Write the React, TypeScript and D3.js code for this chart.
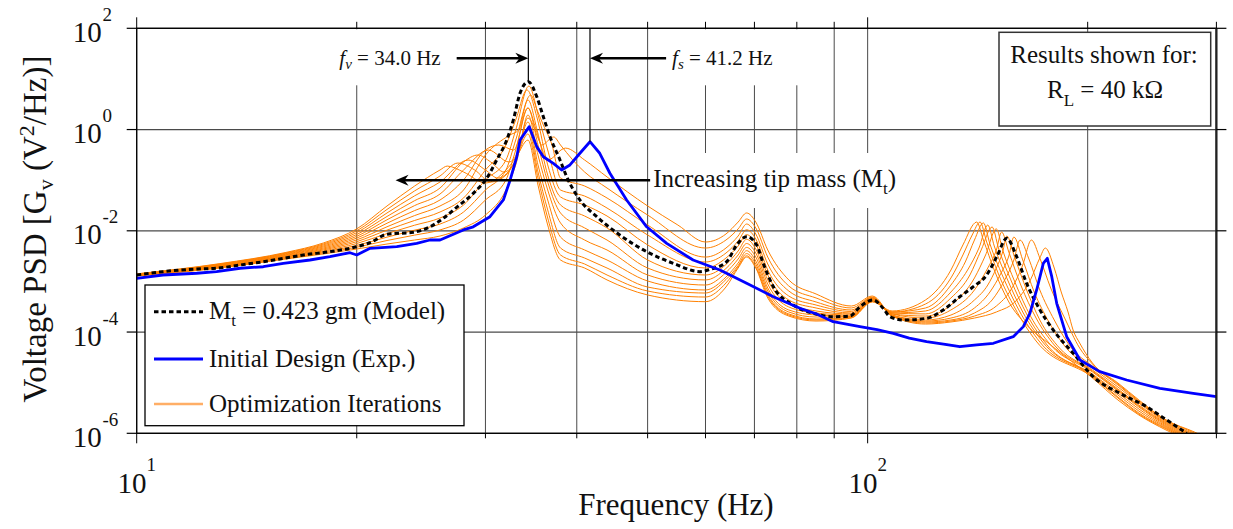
import React from 'react';
import * as d3 from 'd3';

type P = [number, number];

// ---------- axis ticks ----------
const xMajorTicks = [10, 100];
const xMinorTicks = [20, 30, 40, 50, 60, 70, 80, 90, 200, 300];
const xTickLabels = [{ v: 10, e: '1' }, { v: 100, e: '2' }];
const yTickExps = [-6, -4, -2, 0, 2];

// ---------- model (dashed) : [Hz, V^2/Hz] ----------
const modelSeries: P[] = [[10,1.34e-3],[10.86,1.56e-3],[12.08,1.76e-3],[12.86,1.82e-3],[13.85,2.11e-3],[14.9,2.45e-3],[15.87,2.86e-3],[16.9,3.33e-3],[18.38,3.87e-3],[20.0,4.85e-3],[20.86,5.82e-3],[21.98,8.53e-3],[23.9,9.34e-3],[25.19,1.2e-2],[26.27,1.77e-2],[27.4,2.91e-2],[28.87,5.5e-2],[30.12,0.109],[31.08,0.25],[32.08,0.62],[32.75,1.54],[33.45,5.2],[34.34,8.8],[35.26,4.46],[36.0,1.79],[36.77,0.72],[37.94,0.25],[38.75,0.117],[40.4,0.0406],[42.6,0.019],[45.8,8.26e-3],[49.85,3.87e-3],[54.2,2.28e-3],[58.97,1.56e-3],[60.85,1.73e-3],[64.14,2.45e-3],[66.2,5.25e-3],[68.3,7.66e-3],[70.5,5.25e-3],[71.97,2.28e-3],[74.3,7.87e-4],[79.1,3.42e-4],[84.3,2.34e-4],[89.7,2.01e-4],[94.6,2.07e-4],[97.6,3.17e-4],[101.8,4.3e-4],[105.0,2.94e-4],[107.3,2.01e-4],[111.9,1.73e-4],[120.4,1.87e-4],[126.9,2.73e-4],[133.7,4.99e-4],[139.5,7.87e-4],[145.5,1.34e-3],[150.2,3.08e-3],[155.0,7.11e-3],[159.9,3.08e-3],[165.0,9.18e-4],[172.1,2.73e-4],[179.4,1.1e-4],[191.1,3.8e-5],[203.5,1.31e-5],[221.3,6.17e-6],[240.8,3.35e-6],[256.5,1.83e-6],[273.3,1.0e-6]];

// ---------- initial design, experiment (blue) ----------
const expSeries: P[] = [[10,1.15e-3],[10.86,1.34e-3],[12.08,1.45e-3],[12.86,1.56e-3],[13.85,1.82e-3],[14.9,1.95e-3],[15.87,2.28e-3],[17.26,2.65e-3],[18.38,3.08e-3],[19.58,3.69e-3],[20.0,3.33e-3],[20.86,4.51e-3],[22.69,4.85e-3],[24.16,5.66e-3],[25.19,6.58e-3],[26.0,6.58e-3],[27.98,1.04e-2],[28.87,1.2e-2],[30.43,1.9e-2],[31.74,4.06e-2],[32.42,0.1],[33.11,0.29],[33.45,0.62],[34.44,1.14],[35.26,0.46],[36.0,0.29],[37.15,0.215],[38.14,0.159],[39.15,0.2],[40.4,0.34],[41.7,0.575],[43.0,0.34],[44.4,0.137],[46.8,4.06e-2],[49.85,1.2e-2],[53.1,5.66e-3],[57.7,2.65e-3],[62.8,1.68e-3],[64.1,1.45e-3],[68.3,9.18e-4],[74.3,4.99e-4],[80.8,2.94e-4],[85.0,2.3e-4],[89.7,1.6e-4],[97.6,1.28e-4],[103.0,1.12e-4],[108.4,9.4e-5],[114.0,7.6e-5],[120.4,6.44e-5],[127.0,5.8e-5],[133.7,5.13e-5],[141.0,5.6e-5],[148.6,6.0e-5],[158.2,8.1e-5],[163.3,1.28e-4],[166.7,2.34e-4],[170.3,6.78e-4],[173.9,2.28e-3],[176.1,2.86e-3],[178.6,1.24e-3],[181.4,3.7e-4],[187.2,8.1e-5],[195.2,2.8e-5],[207.8,1.65e-5],[226.1,1.13e-5],[251.1,7.74e-6],[278.9,6.17e-6],[300,5.28e-6]];

// ---------- optimization iterations (orange) ----------
const iter0: P[] = [[10,1.28e-3],[13,1.84e-3],[16,2.77e-3],[18,3.48e-3],[20,4.37e-3],[22,5.48e-3],[24,6.58e-3],[26,7.89e-3],[28,1.14e-2],[30,2.05e-2],[32,6.4e-2],[33,0.2],[34.3,1.69],[35.5,0.62],[36.5,0.25],[38.6,0.43],[41,0.25],[44,0.116],[50,3.09e-2],[55,1.3e-2],[60,6.01e-3],[64,8.65e-3],[66.5,1.49e-2],[68.3,2.25e-2],[70.3,1.49e-2],[73,4.18e-3],[78,1.07e-3],[85,5.65e-4],[95,3.27e-4],[101.5,5.15e-4],[108,2.07e-4],[120,1.44e-4],[130,1.58e-4],[140,1.89e-4],[150,2.49e-4],[160,4.3e-4],[167,1.07e-3],[172,2.9e-3],[175,4.57e-3],[180,1.84e-3],[184,6.18e-4],[188,2.49e-4],[191,1.1e-4],[195,6.08e-5],[203,2.45e-5],[220,9.86e-6],[235,4.55e-6],[256,1.83e-6],[280,1.06e-6],[295,7.4e-7]];
const iter1: P[] = [[10,1.3e-3],[13,1.87e-3],[16,2.85e-3],[18,3.64e-3],[20,4.74e-3],[22,6.43e-3],[24,8.22e-3],[26,1.04e-2],[28,1.63e-2],[30,4.06e-2],[32,0.101],[33,0.394],[34.3,2.67],[35.2,0.98],[35.8,0.495],[37.2,0.713],[38,0.495],[39.5,0.25],[41,0.145],[44,7.0e-2],[50,2.05e-2],[60,4.57e-3],[64,6.58e-3],[66.5,1.09e-2],[68.3,1.71e-2],[70.3,1.14e-2],[73,3.03e-3],[78,8.13e-4],[85,4.71e-4],[95,2.99e-4],[101.5,4.92e-4],[108,2.07e-4],[120,1.51e-4],[130,1.65e-4],[140,2.07e-4],[150,3.27e-4],[157,6.78e-4],[163,2.11e-3],[167.5,6.58e-3],[172,2.9e-3],[178,7.41e-4],[186,1.89e-4],[195,4.84e-5],[203,2.34e-5],[220,9.42e-6],[235,4.35e-6],[256,1.83e-6],[280,1.01e-6],[295,7.05e-7]];
const iter2: P[] = [[10,1.3e-3],[13,1.91e-3],[16,2.93e-3],[18,3.81e-3],[20,5.14e-3],[22,7.5e-3],[24,1.03e-2],[26,1.36e-2],[28,2.35e-2],[30,6.4e-2],[32,0.159],[33,0.62],[34.6,4.81],[35.3,2.43],[36,1.23],[37,0.495],[38,0.11],[41,7.67e-2],[44,4.45e-2],[50,1.3e-2],[60,3.03e-3],[64,4.57e-3],[66.5,7.89e-3],[68.3,1.36e-2],[70.3,8.65e-3],[73,2.21e-3],[78,6.47e-4],[85,3.93e-4],[95,2.73e-4],[101.5,4.81e-4],[108,2.07e-4],[120,1.58e-4],[130,1.73e-4],[140,2.38e-4],[148,4.3e-4],[154,1.07e-3],[158.5,2.65e-3],[161.6,6.58e-3],[166,2.9e-3],[172,6.78e-4],[180,1.73e-4],[190,4.84e-5],[203,2.13e-5],[220,9.0e-6],[235,4.15e-6],[256,1.75e-6],[280,9.7e-7]];
const iter3: P[] = [[10,1.32e-3],[13,1.95e-3],[16,3.01e-3],[18,3.99e-3],[20,5.61e-3],[22,8.81e-3],[24,1.29e-2],[26,1.79e-2],[28,3.24e-2],[30,0.101],[32,0.25],[33,0.98],[34.4,7.24],[35.5,1.69],[36.5,0.394],[38,6.4e-2],[41,4.86e-2],[44,2.82e-2],[50,8.26e-3],[60,2.42e-3],[64,3.64e-3],[66.5,6.28e-3],[68.3,1.05e-2],[70.3,6.89e-3],[73,1.68e-3],[78,5.15e-4],[85,3.42e-4],[95,2.55e-4],[101.5,4.7e-4],[108,2.17e-4],[120,1.65e-4],[130,1.89e-4],[140,2.99e-4],[147,6.18e-4],[152,1.4e-3],[156,3.18e-3],[158.5,7.53e-3],[163,2.65e-3],[169,6.18e-4],[177,1.58e-4],[188,4.42e-5],[203,1.95e-5],[220,8.22e-6],[235,3.96e-6],[256,1.67e-6],[280,9.25e-7]];
const iter4: P[] = [[10,1.33e-3],[13,1.98e-3],[16,3.09e-3],[18,4.18e-3],[20,6.1e-3],[22,1.03e-2],[24,1.6e-2],[26,2.35e-2],[28,4.45e-2],[30,0.159],[32,0.495],[33,1.55],[34.2,6.04],[35.3,1.69],[36.5,0.2],[38,4.66e-2],[41,3.24e-2],[44,1.96e-2],[50,5.25e-3],[60,1.84e-3],[64,2.9e-3],[66.5,5.01e-3],[68.3,8.41e-3],[70.3,5.48e-3],[73,1.34e-3],[78,4.3e-4],[85,2.99e-4],[95,2.38e-4],[101.5,4.6e-4],[108,2.17e-4],[120,1.73e-4],[130,2.17e-4],[140,4.3e-4],[146,8.49e-4],[150,1.84e-3],[153,3.81e-3],[155,7.89e-3],[159,2.9e-3],[165,6.78e-4],[172,1.73e-4],[183,4.84e-5],[203,1.78e-5],[220,7.5e-6],[235,3.62e-6],[256,1.6e-6],[280,8.85e-7]];
const iter5: P[] = [[10,1.34e-3],[13,2.02e-3],[16,3.18e-3],[18,4.37e-3],[20,6.61e-3],[22,1.2e-2],[24,2.0e-2],[26,3.09e-2],[28,6.4e-2],[30,0.314],[32.4,0.78],[33.3,0.98],[34.3,3.84],[35.3,0.98],[36.5,0.126],[38,3.24e-2],[41,1.96e-2],[44,1.14e-2],[50,2.65e-3],[60,1.34e-3],[64,2.16e-3],[66.5,3.99e-3],[68.3,6.79e-3],[70.3,4.37e-3],[73,1.07e-3],[78,3.58e-4],[85,2.61e-4],[95,2.28e-4],[101.5,4.5e-4],[108,2.28e-4],[120,1.89e-4],[130,2.73e-4],[140,6.78e-4],[146,1.84e-3],[150,4.18e-3],[152.5,9.46e-3],[156,3.81e-3],[162,8.49e-4],[170,1.89e-4],[180,5.55e-5],[203,1.7e-5],[220,7.16e-6],[235,3.46e-6],[256,1.53e-6],[280,8.45e-7]];
const iter6: P[] = [[10,1.35e-3],[13,2.06e-3],[16,3.27e-3],[18,4.57e-3],[20,7.18e-3],[22,1.41e-2],[24,2.51e-2],[26,4.06e-2],[28,0.101],[30,0.394],[31.3,0.495],[32.8,0.394],[34.3,2.67],[35.4,0.495],[36.5,9.2e-2],[38,2.25e-2],[41,1.14e-2],[44,6.58e-3],[50,1.84e-3],[60,1.07e-3],[64,1.8e-3],[66.5,3.33e-3],[68.3,5.61e-3],[70.3,3.64e-3],[73,8.89e-4],[78,3.13e-4],[85,2.38e-4],[95,2.17e-4],[101.5,4.4e-4],[108,2.28e-4],[120,2.07e-4],[130,3.42e-4],[140,1.17e-3],[145,3.33e-3],[150,1.09e-2],[153,4.18e-3],[159,9.75e-4],[167,2.07e-4],[178,5.55e-5],[203,1.63e-5],[220,6.85e-6],[235,3.3e-6],[256,1.46e-6],[280,8.07e-7]];
const iter7: P[] = [[10,1.36e-3],[13,2.09e-3],[16,3.36e-3],[18,4.79e-3],[20,7.78e-3],[22,1.65e-2],[24,3.15e-2],[26,5.33e-2],[28,0.159],[30.3,0.394],[32.3,0.229],[33.3,0.394],[34.3,1.94],[35.4,0.314],[36.5,6.4e-2],[38,1.43e-2],[41,6.58e-3],[44,4.18e-3],[50,1.34e-3],[60,8.49e-4],[64,1.5e-3],[66.5,2.77e-3],[68.3,4.7e-3],[70.3,3.03e-3],[73,7.41e-4],[78,2.73e-4],[85,2.17e-4],[95,2.07e-4],[101.5,4.3e-4],[108,2.38e-4],[120,2.28e-4],[130,4.71e-4],[138,1.34e-3],[143,4.18e-3],[148,1.19e-2],[151,4.57e-3],[157,1.07e-3],[165,2.28e-4],[176,5.55e-5],[203,1.48e-5],[220,6.25e-6],[235,3.02e-6],[256,1.39e-6],[280,7.71e-7]];
const iter8: P[] = [[10,1.37e-3],[13,2.13e-3],[16,3.45e-3],[18,5.01e-3],[20,8.45e-3],[22,1.92e-2],[24,3.94e-2],[26,7.0e-2],[28,0.229],[29.3,0.314],[30.5,0.229],[31.8,0.145],[33,0.25],[34.3,1.41],[35.4,0.2],[36.5,4.06e-2],[38,7.53e-3],[41,4.18e-3],[44,2.65e-3],[50,1.02e-3],[60,6.78e-4],[64,1.22e-3],[66.5,2.31e-3],[68.3,4.05e-3],[70.3,2.53e-3],[73,6.47e-4],[78,2.49e-4],[85,1.98e-4],[95,2.03e-4],[101.5,4.2e-4],[108,2.38e-4],[120,2.61e-4],[130,6.18e-4],[137,1.68e-3],[142,4.57e-3],[146,1.3e-2],[149,5.01e-3],[155,1.17e-3],[163,2.49e-4],[174,6.08e-5],[203,1.42e-5],[220,5.71e-6],[235,2.75e-6],[256,1.33e-6],[280,7.38e-7]];
const iter9: P[] = [[10,1.38e-3],[13,2.17e-3],[16,3.55e-3],[18,5.25e-3],[20,9.2e-3],[22,2.25e-2],[24,4.91e-2],[26,9.2e-2],[28.4,0.25],[30,0.159],[31.2,0.11],[33,0.25],[34.3,1.07],[35.4,0.145],[36.5,2.58e-2],[38,4.57e-3],[41,2.9e-3],[44,1.84e-3],[50,7.76e-4],[60,5.9e-4],[64,1.09e-3],[66.5,2.06e-3],[68.3,3.55e-3],[70.3,2.21e-3],[73,5.65e-4],[78,2.28e-4],[85,1.81e-4],[95,1.98e-4],[101.5,4.1e-4],[108,2.49e-4],[120,2.99e-4],[130,8.49e-4],[136,2.42e-3],[140,6.58e-3],[144,1.43e-2],[147,5.48e-3],[153,1.28e-3],[161,2.73e-4],[172,6.37e-5],[203,1.36e-5],[220,5.21e-6],[235,2.52e-6],[256,1.27e-6],[280,7.05e-7]];
const iter10: P[] = [[10,1.4e-3],[13,2.21e-3],[16,3.64e-3],[18,5.48e-3],[20,1.0e-2],[22,2.64e-2],[24,6.14e-2],[26,0.121],[27.5,0.218],[29,0.159],[30.5,9.2e-2],[32,0.126],[33,0.25],[34.3,0.817],[35.4,0.11],[36.5,1.79e-2],[38,3.33e-3],[41,2.21e-3],[44,1.34e-3],[50,6.47e-4],[60,4.92e-4],[64,9.31e-4],[66.5,1.93e-3],[68.3,3.21e-3],[70.3,1.97e-3],[73,5.15e-4],[78,2.17e-4],[85,1.73e-4],[95,1.94e-4],[101.5,4.01e-4],[108,2.49e-4],[120,3.58e-4],[130,1.17e-3],[135,3.33e-3],[139,8.26e-3],[142.5,1.49e-2],[145.5,6.01e-3],[151,1.4e-3],[159,2.99e-4],[170,6.65e-5],[203,1.29e-5],[220,4.98e-6],[235,2.4e-6],[256,1.22e-6],[280,6.73e-7]];
const iter11: P[] = [[10,1.41e-3],[13,2.25e-3],[16,3.74e-3],[18,5.74e-3],[20,1.09e-2],[22,3.09e-2],[24,7.67e-2],[26,0.159],[26.6,0.19],[28,0.145],[30,8.8e-2],[32,0.159],[33,0.274],[34.3,0.62],[35.4,8.0e-2],[36.5,1.3e-2],[38,2.65e-3],[41,1.84e-3],[44,1.07e-3],[50,5.4e-4],[60,3.98e-4],[64,7.76e-4],[66.5,1.84e-3],[68.3,3.03e-3],[70.3,1.84e-3],[73,4.71e-4],[78,2.07e-4],[85,1.65e-4],[95,1.89e-4],[101.5,3.93e-4],[108,2.61e-4],[120,4.3e-4],[130,1.68e-3],[135,5.25e-3],[141,1.49e-2],[144,6.58e-3],[149,1.68e-3],[156,3.93e-4],[165,1.38e-4],[178,5.55e-5],[203,1.24e-5],[220,4.55e-6],[235,2.3e-6],[256,1.16e-6],[280,6.42e-7]];
const iterations: P[][] = [iter0, iter1, iter2, iter3, iter4, iter5, iter6, iter7, iter8, iter9, iter10, iter11];

// ---------- annotations (data coordinates) ----------
const fvPeak: P = [34.34, 8.8];   // model resonance
const fsPeak: P = [41.7, 0.575];  // experimental resonance
const arrowLevel = 25.5;          // PSD level of the f arrows
const fvArrowTail = 27.4;
const fsArrowTail = 53.0;
const massArrow = { from: 50.4, to: 22.6, level: 0.1 };

const FONT = '"Liberation Serif", "Times New Roman", serif';

export default function App() {
  const L = 136.7, R = 1216.4, T = 28.3, B = 433.3;
  const x = d3.scaleLog().domain([10, 300]).range([L, R]);
  const y = d3.scaleLog().domain([1e-6, 1e2]).range([B, T]);
  const smooth = d3.line<P>().x(d => x(d[0])).y(d => y(d[1])).curve(d3.curveMonotoneX);
  const straight = d3.line<P>().x(d => x(d[0])).y(d => y(d[1]));

  const gridX = [...xMajorTicks, ...xMinorTicks];
  const gridColor = '#4a4a4a';
  const orange = '#ff8000';

  const arrowHead = (tx: number, ty: number, dir: number) => {
    const len = 13, hw = 5.5, back = 4;
    const bx = tx - dir * len;
    return `M${tx},${ty} L${bx},${ty - hw} L${bx + dir * back},${ty} L${bx},${ty + hw} Z`;
  };

  const ay = y(arrowLevel);
  const fvX = x(fvPeak[0]);
  const fsX = x(fsPeak[0]);
  const fvTailX = x(fvArrowTail);
  const fsTailX = x(fsArrowTail);
  const my = y(massArrow.level);
  const mFrom = x(massArrow.from), mTo = x(massArrow.to);

  const legendItems = [
    { kind: 'model', y: 311.7 },
    { kind: 'exp', y: 359 },
    { kind: 'iter', y: 404 },
  ];

  return (
    <svg width={1233} height={529} style={{ position: 'absolute', left: 0, top: 0, background: '#fff', fontFamily: FONT }}>
      <defs>
        <clipPath id="plotClip">
          <rect x={L} y={T} width={R - L} height={B - T} />
        </clipPath>
      </defs>
      <rect x={0} y={0} width={1233} height={529} fill="#fff" />

      {/* grid */}
      {gridX.map(v => (
        <line key={'gx' + v} x1={x(v)} x2={x(v)} y1={T} y2={B} stroke={gridColor} strokeWidth={1} />
      ))}
      {yTickExps.map(e => (
        <line key={'gy' + e} x1={L} x2={R} y1={y(Math.pow(10, e))} y2={y(Math.pow(10, e))} stroke={gridColor} strokeWidth={1.2} />
      ))}

      {/* text backgrounds that hide grid lines */}
      <rect x={318} y={T + 1} width={134} height={56} fill="#fff" />
      <rect x={fsTailX - 4} y={T + 1} width={140} height={56} fill="#fff" />
      <rect x={mFrom} y={153} width={262} height={55} fill="#fff" />

      {/* data */}
      <g clipPath="url(#plotClip)">
        {iterations.map((s, i) => (
          <path key={'it' + i} d={smooth(s) || ''} fill="none" stroke={orange} strokeWidth={1} />
        ))}
        <path d={smooth(modelSeries) || ''} fill="none" stroke="#000" strokeWidth={3} strokeDasharray="4.5 3" />
        <path d={straight(expSeries) || ''} fill="none" stroke="#0000ff" strokeWidth={2.8} strokeLinejoin="round" />
      </g>

      {/* marker lines */}
      <line x1={fvX} x2={fvX} y1={T} y2={y(fvPeak[1])} stroke="#000" strokeWidth={1.2} />
      <line x1={fsX} x2={fsX} y1={T} y2={y(fsPeak[1])} stroke="#000" strokeWidth={1.2} />

      {/* arrows */}
      <line x1={fvTailX} x2={fvX - 8} y1={ay} y2={ay} stroke="#000" strokeWidth={2.5} />
      <path d={arrowHead(fvX, ay, 1)} fill="#000" />
      <line x1={fsTailX} x2={fsX + 8} y1={ay} y2={ay} stroke="#000" strokeWidth={2.5} />
      <path d={arrowHead(fsX, ay, -1)} fill="#000" />
      <line x1={mFrom} x2={mTo + 8} y1={my} y2={my} stroke="#000" strokeWidth={2.5} />
      <path d={arrowHead(mTo, my, -1)} fill="#000" />

      {/* annotation texts */}
      <text x={fvTailX - 16} y={ay + 7} fontSize={21} textAnchor="end" fill="#111">
        <tspan fontStyle="italic">f</tspan>
        <tspan fontStyle="italic" fontSize={15} dy={4}>v</tspan>
        <tspan dy={-4}>{' = 34.0 Hz'}</tspan>
      </text>
      <text x={fsTailX + 6} y={ay + 7} fontSize={21} fill="#111">
        <tspan fontStyle="italic">f</tspan>
        <tspan fontStyle="italic" fontSize={15} dy={4}>s</tspan>
        <tspan dy={-4}>{' = 41.2 Hz'}</tspan>
      </text>
      <text x={mFrom + 3} y={my + 7} fontSize={25} fill="#111">
        <tspan>Increasing tip mass (M</tspan>
        <tspan fontSize={17} dy={7}>t</tspan>
        <tspan dy={-7}>)</tspan>
      </text>

      {/* results box */}
      <rect x={999} y={32.3} width={211.7} height={93.7} fill="#fff" stroke="#333" strokeWidth={1.5} />
      <text x={1104} y={63} fontSize={25} textAnchor="middle" fill="#111">Results shown for:</text>
      <text x={1105} y={98} fontSize={25} textAnchor="middle" fill="#111">
        <tspan>R</tspan>
        <tspan fontSize={17} dy={8}>L</tspan>
        <tspan dy={-8}>{' = 40 kΩ'}</tspan>
      </text>

      {/* legend */}
      <rect x={145} y={285} width={319} height={140.7} fill="#fff" stroke="#000" strokeWidth={1.3} />
      {legendItems.map(it => (
        <g key={it.kind}>
          {it.kind === 'model' && <line x1={154} x2={203} y1={it.y} y2={it.y} stroke="#000" strokeWidth={3} strokeDasharray="4.5 3" />}
          {it.kind === 'exp' && <line x1={154} x2={203} y1={it.y} y2={it.y} stroke="#0000ff" strokeWidth={3} />}
          {it.kind === 'iter' && <line x1={154} x2={203} y1={it.y} y2={it.y} stroke="#ffae66" strokeWidth={2.5} />}
        </g>
      ))}
      <text x={209} y={319} fontSize={25} fill="#111">
        <tspan>M</tspan>
        <tspan fontSize={17} dy={7}>t</tspan>
        <tspan dy={-7}>{' = 0.423 gm (Model)'}</tspan>
      </text>
      <text x={209} y={367} fontSize={25} fill="#111">Initial Design (Exp.)</text>
      <text x={209} y={412} fontSize={25} fill="#111">Optimization Iterations</text>

      {/* frame */}
      <rect x={L} y={T} width={R - L} height={B - T} fill="none" stroke="#000" strokeWidth={1.3} />
      <line x1={R} x2={R} y1={T} y2={B} stroke="#222" strokeWidth={2.2} />

      {/* ticks */}
      {xMajorTicks.map(v => (
        <g key={'tmx' + v}>
          <line x1={x(v)} x2={x(v)} y1={T} y2={T - 11} stroke="#000" strokeWidth={1} />
          <line x1={x(v)} x2={x(v)} y1={B} y2={B + 10} stroke="#000" strokeWidth={1} />
        </g>
      ))}
      {xMinorTicks.map(v => (
        <g key={'tnx' + v}>
          <line x1={x(v)} x2={x(v)} y1={T} y2={T - 6.5} stroke="#000" strokeWidth={1} />
          <line x1={x(v)} x2={x(v)} y1={B} y2={B + 5} stroke="#000" strokeWidth={1} />
        </g>
      ))}
      {yTickExps.map(e => (
        <g key={'ty' + e}>
          <line x1={L - 10} x2={L} y1={y(Math.pow(10, e))} y2={y(Math.pow(10, e))} stroke="#000" strokeWidth={1.2} />
          <line x1={R} x2={R + 10} y1={y(Math.pow(10, e))} y2={y(Math.pow(10, e))} stroke="#000" strokeWidth={1.2} />
        </g>
      ))}

      {/* y tick labels */}
      {yTickExps.map(e => {
        const yy = y(Math.pow(10, e));
        return (
          <g key={'yl' + e} fill="#111">
            <text x={101.7} y={yy + 13.5} fontSize={29} textAnchor="end">10</text>
            <text x={102.5} y={yy - 7.5} fontSize={19}>{e > 0 ? String(e) : (e === 0 ? '0' : '-' + String(-e))}</text>
          </g>
        );
      })}

      {/* x tick labels */}
      {xTickLabels.map(t => (
        <text key={'xl' + t.v} x={x(t.v)} y={493} fontSize={29} textAnchor="middle" fill="#111">
          <tspan>10</tspan>
          <tspan fontSize={19} dy={-22}>{t.e}</tspan>
        </text>
      ))}

      {/* axis titles */}
      <text x={676} y={515} fontSize={31} textAnchor="middle" fill="#111">Frequency (Hz)</text>
      <text transform="translate(46,229) rotate(-90)" fontSize={33} textAnchor="middle" fill="#111">
        <tspan>Voltage PSD [G</tspan>
        <tspan fontSize={22} dy={7}>v</tspan>
        <tspan dy={-7}>{' (V'}</tspan>
        <tspan fontSize={22} dy={-12}>2</tspan>
        <tspan dy={12}>/Hz)]</tspan>
      </text>
    </svg>
  );
}
